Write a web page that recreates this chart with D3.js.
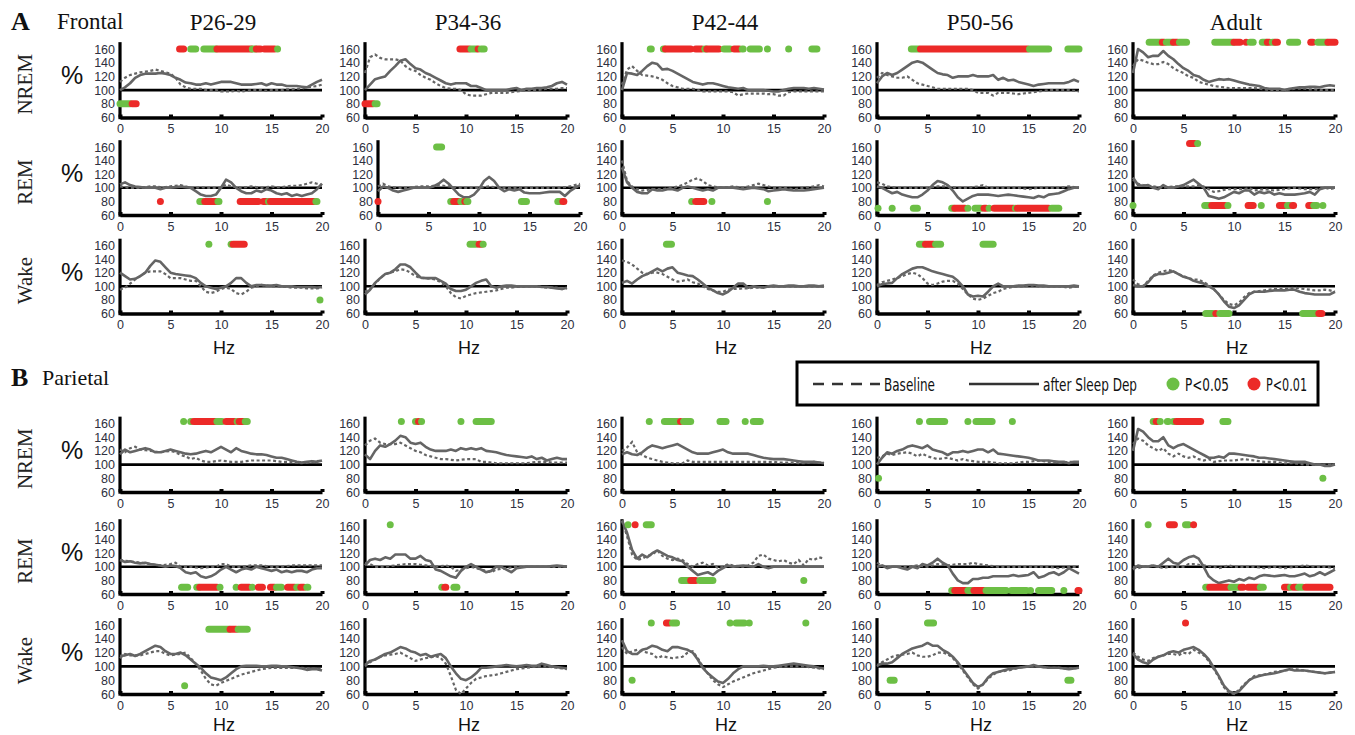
<!DOCTYPE html>
<html>
<head>
<meta charset="utf-8">
<script src="https://cdn.jsdelivr.net/npm/d3@7"></script>
<style>
  body { margin: 0; background: #fff; }
</style>
</head>
<body>
<svg id="chart" width="1355" height="735"></svg>
<script>
// ---- data -------------------------------------------------------------
const ages = ['P26-29', 'P34-36', 'P42-44', 'P50-56', 'Adult'];
const states = ['NREM', 'REM', 'Wake'];
const hz = [0,0.5,1,1.5,2,2.5,3,3.5,4,4.5,5,5.5,6,6.5,7,7.5,8,8.5,9,9.5,10,
            10.5,11,11.5,12,12.5,13,13.5,14,14.5,15,15.5,16,16.5,17,17.5,18,18.5,19,19.5,20];
const yTicks = [60, 80, 100, 120, 140, 160];
const xTicks = [0, 5, 10, 15, 20];

// % of baseline, one row per age group, values at the hz bins above
const frontalNremBase = [
  [112,118,122,124,126,127,128,130,128,126,124,118,108,104,102,102,102,100,100,100,98,98,98,99,98,99,100,100,100,99,100,100,100,101,101,102,102,104,105,106,108],
  [125,148,152,147,145,145,145,143,135,130,128,122,118,115,110,106,103,102,102,100,94,92,92,92,94,96,96,96,96,97,98,99,100,100,100,101,102,102,102,103,103],
  [108,130,135,128,122,121,120,118,115,110,106,104,102,102,102,100,98,98,98,98,98,98,97,92,94,95,95,95,95,94,94,92,92,97,98,98,98,98,98,98,98],
  [118,125,122,120,118,118,120,115,110,108,106,104,102,102,102,102,102,102,102,100,96,96,96,92,96,96,96,95,94,95,96,97,98,99,100,100,100,100,100,99,98],
  [135,145,143,140,138,138,141,138,132,128,125,120,118,112,110,108,106,105,104,103,103,103,103,103,103,102,101,100,100,100,100,101,102,102,102,101,101,100,100,100,100]
];
const frontalNremSD = [
  [100,104,110,118,122,124,124,124,125,124,122,118,115,111,110,108,108,110,108,110,112,112,112,110,108,108,108,109,110,107,110,108,108,106,106,106,105,104,108,112,115],
  [100,108,116,118,120,128,135,143,145,138,132,130,125,122,118,114,110,108,110,110,110,106,106,103,100,100,100,100,100,102,103,100,102,102,103,103,104,106,110,112,108],
  [100,125,124,122,128,135,140,138,130,131,128,124,120,116,112,110,108,110,110,108,106,104,103,102,103,100,100,100,100,99,98,98,100,102,103,103,103,102,103,102,101],
  [110,120,125,122,125,130,135,140,142,140,135,130,125,123,122,118,120,120,120,122,120,120,120,122,115,118,114,115,112,110,108,106,108,109,110,110,110,110,112,115,112],
  [125,160,155,148,150,150,157,150,145,138,132,128,122,120,115,112,114,116,115,116,114,112,110,108,107,106,103,102,102,102,100,102,103,104,104,105,105,104,106,107,106]
];
const frontalRemBase = [
  [102,101,100,100,100,101,102,102,101,101,102,103,104,102,100,100,101,100,100,100,100,105,102,101,100,101,102,101,100,101,102,101,101,102,103,103,104,106,108,106,104],
  [102,106,102,101,100,100,100,101,102,102,102,103,104,103,102,101,100,100,100,100,100,101,102,101,100,100,100,100,100,100,100,100,100,100,100,100,100,101,102,104,106],
  [140,110,102,98,96,97,98,98,98,99,100,102,104,108,112,114,110,104,102,101,100,101,102,101,100,102,104,106,104,102,100,100,100,99,98,99,100,101,102,104,102],
  [108,106,102,101,100,100,100,100,100,100,100,101,102,102,102,101,100,100,100,101,102,104,100,100,100,100,100,100,100,99,98,99,100,100,100,100,100,101,102,101,100],
  [112,106,104,103,102,101,100,101,102,102,102,102,102,104,102,98,94,95,97,98,98,98,98,100,96,97,98,97,96,97,98,99,100,99,98,98,98,99,100,98,100]
];
const frontalRemSD = [
  [105,108,104,102,101,100,100,100,98,100,100,101,102,101,100,95,90,88,88,90,100,112,108,100,95,92,92,96,94,98,96,92,90,92,88,90,88,90,92,98,106],
  [95,102,100,96,94,96,98,100,100,100,100,102,106,112,106,98,90,86,86,90,98,110,116,110,100,95,98,96,98,93,92,92,92,93,94,94,94,88,95,100,104],
  [130,108,100,94,92,92,98,96,96,98,98,96,100,102,100,98,96,98,96,100,100,100,100,99,98,99,100,99,98,95,96,97,98,97,96,96,96,97,98,99,100],
  [102,100,96,92,94,90,88,86,86,90,96,104,110,108,104,96,86,80,84,88,90,90,90,89,88,89,90,89,88,87,86,85,88,86,90,91,92,95,98,100,100],
  [115,104,103,104,100,98,104,100,100,102,104,108,112,106,100,88,86,84,86,90,94,92,96,96,90,94,92,94,90,92,90,90,90,91,92,94,90,98,100,100,100]
];
const frontalWakeBase = [
  [95,98,104,110,115,120,122,122,122,118,112,112,112,110,108,108,100,92,90,92,96,98,96,90,88,92,98,100,102,101,100,100,99,99,98,98,98,97,97,97,98],
  [92,96,104,112,118,120,122,125,124,120,115,112,112,111,110,106,100,90,84,82,86,88,90,91,92,93,94,96,98,98,99,99,100,100,100,99,98,98,98,96,97],
  [138,136,132,126,120,118,120,120,118,114,110,107,108,110,106,104,100,96,94,92,92,95,96,96,97,97,98,98,99,99,100,100,100,100,100,100,100,100,100,100,100],
  [102,106,108,110,112,115,118,120,118,112,104,102,104,107,108,108,104,96,88,82,80,82,86,90,92,96,98,99,100,100,101,101,100,100,100,100,100,99,98,99,100],
  [110,103,100,108,116,120,122,124,122,118,115,112,110,110,106,102,96,88,80,74,72,76,84,90,92,93,94,95,96,96,96,97,98,97,96,95,94,94,95,94,92]
];
const frontalWakeSD = [
  [120,115,110,111,115,120,130,138,136,128,120,118,117,116,115,112,105,100,98,96,98,100,105,112,112,105,100,102,102,101,101,102,100,100,100,99,99,99,99,98,99],
  [88,95,105,112,118,120,125,132,132,128,120,113,112,112,112,108,104,96,93,93,95,100,105,108,110,100,98,100,101,101,100,100,100,100,100,99,99,98,97,96,98],
  [105,108,104,110,115,118,122,126,122,126,128,120,118,116,115,110,104,98,94,90,88,92,98,104,104,98,100,99,98,100,101,100,100,101,101,100,100,101,101,100,101],
  [100,103,104,105,112,118,122,126,128,128,125,122,120,118,116,114,108,100,88,85,86,85,92,100,104,100,100,100,101,101,102,102,101,101,100,100,100,100,100,101,100],
  [102,100,100,106,115,118,118,120,122,118,114,112,108,106,104,100,96,88,78,70,68,72,80,88,92,92,92,93,94,94,94,95,95,92,90,89,88,88,88,88,92]
];
const parietalNremBase = [
  [122,118,124,126,122,121,120,119,118,119,120,118,114,112,108,110,106,104,104,105,106,105,104,104,104,105,106,106,106,106,106,105,104,104,104,103,102,103,104,105,106],
  [128,135,138,132,130,130,130,132,128,124,120,118,114,112,110,108,108,107,106,107,108,108,108,104,104,103,102,102,102,102,102,102,102,103,104,104,104,103,103,103,103],
  [120,125,133,118,114,110,108,106,104,103,102,102,102,106,104,104,104,104,104,104,104,104,104,104,104,104,104,104,104,104,104,103,103,103,103,102,102,103,104,103,103],
  [110,112,116,114,116,117,118,116,112,116,112,110,108,109,110,108,106,108,106,105,104,104,104,103,102,102,102,102,103,104,104,105,106,105,104,104,103,103,104,104,103],
  [130,138,135,128,124,120,124,116,112,116,112,110,112,108,106,108,104,105,106,106,106,107,108,107,106,105,104,104,104,103,102,102,102,101,100,100,100,100,100,100,100]
];
const parietalNremSD = [
  [115,122,118,120,122,124,122,118,118,120,122,120,118,116,115,116,118,120,118,122,126,122,118,124,120,118,116,115,115,114,112,110,110,108,106,104,103,104,105,104,106],
  [115,108,120,128,126,130,135,142,140,132,130,132,126,122,120,120,120,122,120,124,122,124,122,124,120,119,118,116,114,113,112,111,110,112,108,110,106,108,110,108,108],
  [115,118,115,114,118,124,128,126,124,126,128,130,126,122,118,116,116,116,118,120,122,118,116,116,116,116,114,112,110,109,108,108,108,107,106,105,104,104,104,103,102],
  [100,110,118,116,120,122,126,128,126,124,128,122,120,118,114,118,118,120,118,120,122,122,118,122,116,115,114,113,112,111,110,108,106,106,106,105,104,104,102,104,104],
  [120,152,148,140,134,134,140,128,124,128,130,126,122,118,114,110,110,112,110,116,116,115,114,113,112,110,110,109,108,107,106,105,104,104,104,102,100,100,98,98,100]
];
const parietalRemBase = [
  [110,109,108,107,106,105,104,103,102,103,104,106,100,100,100,99,98,99,100,100,104,104,100,100,100,101,102,102,102,101,100,100,100,101,102,102,102,102,102,102,102],
  [106,104,100,100,100,101,102,103,104,104,104,103,102,101,100,101,102,100,94,96,98,100,98,96,94,92,96,97,98,99,100,100,100,100,100,100,100,100,100,100,101],
  [168,145,118,110,112,116,118,124,116,112,110,112,110,104,100,104,106,102,104,98,100,104,102,101,100,102,106,116,118,112,110,108,110,106,104,110,102,112,110,114,112],
  [106,102,100,100,100,100,100,101,102,101,100,102,104,103,102,103,104,104,104,106,104,103,102,101,100,100,100,100,100,100,100,100,100,100,100,99,98,99,100,100,100],
  [100,98,100,101,102,100,98,100,100,100,100,104,104,103,102,101,100,98,100,102,100,100,100,100,100,99,98,99,100,99,98,99,100,101,102,101,100,100,100,99,98]
];
const parietalRemSD = [
  [110,107,108,106,105,106,104,103,102,100,102,101,98,92,90,92,86,84,86,90,96,100,96,92,96,98,96,100,98,96,94,96,92,94,92,94,94,92,96,98,98],
  [102,110,112,110,114,112,118,118,118,112,112,116,110,108,96,94,90,86,84,94,100,104,100,96,92,94,100,100,96,92,98,99,100,100,100,100,100,101,102,101,100],
  [168,150,125,112,118,114,120,124,120,116,114,110,108,100,94,88,90,92,88,94,98,102,100,101,102,101,100,104,100,98,100,100,100,100,100,100,100,100,100,100,100],
  [100,102,98,100,100,98,96,100,98,104,102,106,112,106,102,90,80,76,76,82,82,84,84,86,86,86,86,88,86,87,88,92,84,86,90,92,88,92,98,94,90],
  [96,102,100,100,102,100,106,112,106,104,110,114,116,112,100,86,80,76,78,80,78,82,80,84,82,86,88,87,86,87,88,86,86,88,90,86,88,92,88,92,96]
];
const parietalWakeBase = [
  [112,118,116,116,116,118,120,122,122,118,116,117,118,120,112,104,94,82,74,72,76,79,82,85,88,90,92,94,96,97,98,98,98,98,98,98,98,97,97,96,96],
  [100,106,110,114,116,117,118,120,116,112,108,110,112,113,115,112,104,86,66,60,68,76,82,84,86,87,88,90,92,94,96,97,98,99,100,100,100,99,98,97,96],
  [128,118,122,124,122,120,118,112,115,113,112,113,114,120,122,112,100,90,80,74,70,74,78,81,84,87,90,92,94,96,98,99,100,100,100,100,100,99,98,97,96],
  [100,106,110,114,116,117,118,120,116,114,114,116,120,120,118,112,104,94,84,74,68,74,82,88,92,93,94,96,98,99,100,100,100,99,98,98,98,97,97,97,98],
  [120,114,110,108,112,114,116,118,118,116,120,118,124,120,116,108,96,84,70,62,60,66,74,80,86,87,88,90,92,93,94,95,96,95,94,93,92,91,90,91,92]
];
const parietalWakeSD = [
  [115,116,118,115,118,122,126,130,128,122,118,118,120,116,110,104,98,90,84,82,80,84,90,96,100,101,101,101,100,100,101,101,100,100,99,98,97,95,96,96,94],
  [102,108,110,114,118,120,124,128,126,122,120,116,118,114,116,118,112,100,90,82,80,84,90,98,98,99,100,101,102,101,100,101,102,101,101,104,102,100,99,98,97],
  [138,122,118,118,124,126,130,128,124,122,128,128,126,124,120,110,98,90,84,78,76,82,90,96,100,100,100,100,101,100,100,101,102,103,104,103,102,101,100,98,97],
  [102,104,104,106,112,118,122,126,128,130,134,130,130,124,120,114,106,96,86,76,70,74,84,90,92,94,96,97,98,99,100,102,100,99,98,98,98,97,96,97,98],
  [118,110,106,104,110,114,116,120,122,120,124,126,128,124,118,110,98,86,72,64,61,64,72,80,84,86,88,89,90,92,94,96,94,94,94,93,92,91,90,91,92]
];

// significant bins: [plotted at %, from Hz, to Hz, 'g' = P<0.05 / 'r' = P<0.01]
const frontalNremSig = [
  [[160,5.9,6.3,'r'],[160,7.0,7.5,'g'],[160,8.3,9.5,'g'],[160,9.6,13.0,'r'],[160,13.1,13.4,'g'],[160,13.5,13.9,'r'],[160,14.3,15.3,'r'],[160,15.6,15.6,'g'],[80,0,1.0,'g'],[80,1.2,1.6,'r']],
  [[160,9.4,10.3,'r'],[160,10.5,11.0,'g'],[160,11.2,11.2,'r'],[160,11.5,11.8,'g'],[80,0,0.8,'r'],[80,1.0,1.2,'g']],
  [[160,2.8,2.9,'g'],[160,4.1,4.2,'g'],[160,4.3,6.8,'r'],[160,7.3,7.9,'r'],[160,8.2,8.3,'g'],[160,8.4,9.6,'r'],[160,10.1,10.7,'g'],[160,11.1,11.6,'r'],[160,11.9,12.0,'g'],[160,12.7,13.6,'g'],[160,14.4,14.4,'g'],[160,16.5,16.5,'g'],[160,18.8,19.3,'g']],
  [[160,3.4,4.1,'g'],[160,4.3,14.9,'r'],[160,15.1,17.0,'g'],[160,18.9,20,'g']],
  [[170,1.6,2.8,'g'],[170,2.9,3.1,'r'],[170,3.3,3.9,'g'],[170,4.0,4.4,'r'],[170,4.6,5.3,'g'],[170,8.1,9.9,'g'],[170,10.0,10.6,'r'],[170,11.2,11.2,'r'],[170,11.6,11.9,'g'],[170,12.8,13.2,'g'],[170,13.3,13.5,'r'],[170,13.8,14.0,'g'],[170,14.1,14.3,'r'],[170,15.5,16.3,'g'],[170,17.6,17.8,'r'],[170,18.3,19.2,'g'],[170,19.3,20,'r']]
];
const frontalRemSig = [
  [[80,4.0,4.0,'r'],[80,7.9,8.2,'g'],[80,8.4,9.6,'r'],[80,9.7,9.8,'g'],[80,11.9,13.7,'r'],[80,14.2,14.5,'r'],[80,14.7,14.7,'g'],[80,14.9,19.2,'r'],[80,19.4,19.5,'g']],
  [[160,5.8,6.3,'g'],[80,0,0,'r'],[80,7.2,7.3,'g'],[80,7.5,8.0,'r'],[80,8.2,8.3,'g'],[80,8.6,8.6,'r'],[80,8.8,8.9,'g'],[80,14.2,14.7,'g'],[80,17.8,18.0,'g'],[80,18.3,18.4,'r']],
  [[80,6.9,6.9,'g'],[80,7.3,8.1,'r'],[80,8.9,8.9,'g'],[80,14.4,14.4,'g']],
  [[70,0.1,0.1,'g'],[70,1.5,1.5,'g'],[70,3.6,4.0,'g'],[70,7.4,7.6,'g'],[70,7.7,8.7,'r'],[70,9.0,9.0,'g'],[70,9.7,10.3,'g'],[70,10.6,10.8,'r'],[70,11.1,11.1,'g'],[70,11.6,13.5,'r'],[70,13.7,13.7,'g'],[70,13.9,17.0,'r'],[70,17.3,18.0,'g']],
  [[165,5.6,6.1,'r'],[165,6.4,6.4,'g'],[74,0,0,'g'],[74,7.1,7.6,'g'],[74,7.8,9.1,'r'],[74,9.4,9.4,'g'],[74,11.4,11.9,'r'],[74,12.7,12.7,'g'],[74,14.5,15.0,'r'],[74,15.3,15.5,'g'],[74,15.8,15.9,'r'],[74,17.4,17.7,'r'],[74,17.9,18.2,'g'],[74,18.8,18.8,'g']]
];
const frontalWakeSig = [
  [[162,8.8,8.8,'g'],[162,11.0,11.0,'g'],[162,11.2,12.3,'r'],[80,19.8,19.8,'g']],
  [[162,10.4,11.0,'g'],[162,11.3,11.5,'r'],[162,11.7,11.7,'g']],
  [[162,4.4,4.9,'g']],
  [[162,4.2,4.7,'g'],[162,4.8,5.6,'r'],[162,5.8,6.3,'g'],[162,10.5,11.5,'g']],
  [[60,7.2,7.9,'g'],[60,8.2,8.2,'r'],[60,8.6,9.5,'g'],[60,16.8,18.1,'g'],[60,18.4,18.7,'r']]
];
const parietalNremSig = [
  [[163,6.3,6.3,'g'],[163,7.0,7.0,'g'],[163,7.3,9.4,'r'],[163,9.6,10.1,'g'],[163,10.5,11.3,'r'],[163,11.6,11.6,'g'],[163,11.8,12.2,'r'],[163,12.4,12.6,'g']],
  [[163,3.6,3.6,'g'],[163,5.0,5.0,'g'],[163,5.3,5.3,'r'],[163,5.6,5.6,'g'],[163,9.5,9.5,'g'],[163,11.0,12.5,'g']],
  [[163,2.7,2.7,'g'],[163,4.2,5.5,'g'],[163,5.8,5.8,'r'],[163,6.1,6.8,'g'],[163,9.7,10.3,'g'],[163,12.2,12.2,'g'],[163,13.0,13.7,'g']],
  [[163,4.2,4.2,'g'],[163,5.2,6.7,'g'],[163,9.0,9.0,'g'],[163,9.8,11.4,'g'],[163,13.4,13.4,'g'],[80,0.15,0.15,'g']],
  [[163,2.0,2.0,'g'],[163,2.3,2.4,'r'],[163,2.7,2.7,'g'],[163,3.4,3.5,'g'],[163,4.0,4.1,'g'],[163,4.3,6.7,'r'],[163,8.9,9.4,'g'],[80,18.8,18.8,'g']]
];
const parietalRemSig = [
  [[70,6.1,6.7,'g'],[70,7.6,7.8,'g'],[70,7.9,9.6,'r'],[70,9.9,9.9,'g'],[70,11.5,11.5,'g'],[70,12.0,12.8,'r'],[70,13.1,13.1,'g'],[70,13.7,14.1,'r'],[70,14.9,15.3,'r'],[70,15.5,16.0,'g'],[70,16.6,17.3,'r'],[70,17.5,17.7,'g'],[70,17.9,18.2,'r'],[70,18.5,18.6,'g']],
  [[162,2.5,2.5,'g'],[70,7.6,7.6,'g'],[70,7.9,8.0,'r'],[70,8.8,9.1,'g']],
  [[162,0.6,0.6,'g'],[162,1.3,1.3,'r'],[162,2.4,2.9,'g'],[80,5.9,6.6,'g'],[80,6.8,7.3,'r'],[80,7.7,9.0,'g'],[80,18.0,18.0,'g']],
  [[65,7.4,7.6,'g'],[65,7.7,8.9,'r'],[65,9.0,9.4,'g'],[65,9.6,10.6,'r'],[65,10.8,12.8,'g'],[65,13.3,14.8,'g'],[65,15.2,15.2,'g'],[65,16.0,17.3,'g'],[65,18.5,18.5,'g'],[65,19.9,20,'r']],
  [[162,1.5,1.5,'g'],[162,3.6,4.1,'r'],[162,5.2,5.5,'g'],[162,6.0,6.0,'r'],[70,7.2,7.4,'g'],[70,7.6,9.5,'r'],[70,9.7,10.5,'g'],[70,10.7,10.9,'r'],[70,11.4,12.5,'r'],[70,12.6,12.9,'g'],[70,15.0,15.4,'r'],[70,15.6,15.6,'g'],[70,15.9,16.2,'r'],[70,16.4,16.8,'g'],[70,17.1,19.5,'r']]
];
const parietalWakeSig = [
  [[154,8.8,10.8,'g'],[154,10.9,11.5,'r'],[154,11.7,12.6,'g'],[72,6.4,6.4,'g']],
  [],
  [[163,2.9,2.9,'g'],[163,4.4,4.7,'r'],[163,5.0,5.4,'g'],[163,10.7,10.7,'g'],[163,11.3,12.1,'g'],[163,12.6,12.6,'g'],[163,18.2,18.2,'g'],[80,1.0,1.0,'g']],
  [[163,5.0,5.6,'g'],[80,1.3,1.7,'g'],[80,18.9,19.2,'g']],
  [[163,5.2,5.2,'r']]
];

// ---- layout -------------------------------------------------------------
const serif = '"Liberation Serif", "Times New Roman", serif';
const sans = '"Liberation Sans", Arial, sans-serif';
const narrow = '"Liberation Sans Narrow", "DejaVu Sans Condensed", "Liberation Sans", sans-serif';
const green = '#6cbf45', red = '#ec2a28';
const lineGray = '#656565';
const colX = [120, 365, 622, 877, 1133];
const panelW = 202;

const svg = d3.select('#chart');

function drawPanel(x0, yb, yt, base, sd, sig) {
  const x = d3.scaleLinear().domain([0, 20]).range([x0, x0 + panelW]);
  const y = d3.scaleLinear().domain([60, 160]).range([yb, yt]);
  const g = svg.append('g');

  // y tick labels
  g.append('g').attr('transform', `translate(${x0},0)`)
    .call(d3.axisLeft(y).tickValues(yTicks).tickSize(0).tickPadding(5))
    .call(a => a.select('.domain').remove())
    .selectAll('text')
    .attr('font-size', 12.5).attr('font-family', sans).attr('fill', '#2e3040');

  // x axis with little tick bumps
  const xa = g.append('g').attr('transform', `translate(0,${yb})`)
    .call(d3.axisBottom(x).tickValues(xTicks).tickSizeInner(-3).tickSizeOuter(0).tickPadding(7));
  xa.select('.domain').attr('stroke', '#000').attr('stroke-width', 3.5);
  xa.selectAll('.tick line').attr('stroke', '#000').attr('stroke-width', 4);
  xa.selectAll('text').attr('font-size', 12.5).attr('font-family', sans).attr('fill', '#2e3040');

  // y axis line, a little taller than the top tick
  g.append('line')
    .attr('x1', x0).attr('x2', x0)
    .attr('y1', y(60) + 1.7).attr('y2', y(170))
    .attr('stroke', '#000').attr('stroke-width', 3.2);

  // 100% reference
  g.append('line')
    .attr('x1', x(0)).attr('x2', x(20))
    .attr('y1', y(100)).attr('y2', y(100))
    .attr('stroke', '#000').attr('stroke-width', 2.6);

  const line = d3.line().x((d, i) => x(hz[i])).y(d => y(d));

  g.append('path').datum(base)
    .attr('d', line).attr('fill', 'none')
    .attr('stroke', lineGray).attr('stroke-width', 2.2)
    .attr('stroke-dasharray', '3,2.5');

  g.append('path').datum(sd)
    .attr('d', line).attr('fill', 'none')
    .attr('stroke', lineGray).attr('stroke-width', 2.6)
    .attr('stroke-linejoin', 'round');

  // significance dots (runs of adjacent bins)
  g.selectAll('line.sig').data(sig).join('line')
    .attr('class', 'sig')
    .attr('x1', d => x(d[1])).attr('x2', d => x(d[2]))
    .attr('y1', d => y(d[0])).attr('y2', d => y(d[0]))
    .attr('stroke', d => d[3] === 'r' ? red : green)
    .attr('stroke-width', 7)
    .attr('stroke-linecap', 'round');

  return { x, y };
}

const regions = [
  { letter: 'A', name: 'Frontal', titleY: 30, hzOff: 40,
    rows: [[117.5, 49], [215, 147], [313.5, 245.5]],
    shift: [[0,0,0,0,0],[0,13,0,0,0],[0,0,0,0,0]],
    base: [frontalNremBase, frontalRemBase, frontalWakeBase],
    sd: [frontalNremSD, frontalRemSD, frontalWakeSD],
    sig: [frontalNremSig, frontalRemSig, frontalWakeSig] },
  { letter: 'B', name: 'Parietal', titleY: 386, hzOff: 37,
    rows: [[492, 423.5], [594, 526], [694, 625]],
    shift: [[0,0,0,0,0],[0,0,0,0,0],[0,0,0,0,0]],
    base: [parietalNremBase, parietalRemBase, parietalWakeBase],
    sd: [parietalNremSD, parietalRemSD, parietalWakeSD],
    sig: [parietalNremSig, parietalRemSig, parietalWakeSig] }
];

regions.forEach((reg, ri) => {
  svg.append('text').attr('x', 11).attr('y', reg.titleY)
    .attr('font-family', serif).attr('font-weight', 'bold').attr('font-size', 26)
    .attr('fill', '#111').text(reg.letter);
  svg.append('text').attr('x', ri === 0 ? 57 : 42).attr('y', reg.titleY - 1)
    .attr('font-family', serif).attr('font-size', ri === 0 ? 23 : 22)
    .attr('fill', '#111').text(reg.name);

  states.forEach((st, si) => {
    const [yb, yt] = reg.rows[si];
    ages.forEach((age, ai) => {
      const x0 = colX[ai] + reg.shift[si][ai];
      const { x, y } = drawPanel(x0, yb, yt, reg.base[si][ai], reg.sd[si][ai], reg.sig[si][ai]);
      if (ai === 0) {
        svg.append('text')
          .attr('transform', `translate(32,${(yb + yt) / 2 + 1}) rotate(-90)`)
          .attr('text-anchor', 'middle')
          .attr('font-family', serif).attr('font-size', 21).attr('fill', '#222')
          .text(st);
        svg.append('text').attr('x', 72).attr('y', y(120) + 8)
          .attr('text-anchor', 'middle')
          .attr('font-family', sans).attr('font-size', 25).attr('fill', '#111')
          .text('%');
      }
      if (si === 2) {
        svg.append('text').attr('x', x(10) + 3).attr('y', yb + reg.hzOff)
          .attr('text-anchor', 'middle')
          .attr('font-family', sans).attr('font-size', 18).attr('fill', '#111')
          .text('Hz');
      }
      if (ri === 0 && si === 0) {
        svg.append('text').attr('x', x0 + 103).attr('y', 30)
          .attr('text-anchor', 'middle')
          .attr('font-family', serif).attr('font-size', 23).attr('fill', '#111')
          .text(age);
      }
    });
  });
});

// ---- legend -------------------------------------------------------------
const lg = svg.append('g');
lg.append('rect').attr('x', 797).attr('y', 362).attr('width', 521).attr('height', 43)
  .attr('fill', '#fff').attr('stroke', '#000').attr('stroke-width', 3);
lg.append('line').attr('x1', 813).attr('x2', 880).attr('y1', 384).attr('y2', 384)
  .attr('stroke', '#333').attr('stroke-width', 2.6).attr('stroke-dasharray', '11,8');
lg.append('line').attr('x1', 969).attr('x2', 1039).attr('y1', 384).attr('y2', 384)
  .attr('stroke', '#333').attr('stroke-width', 2.6);
lg.append('circle').attr('cx', 1173).attr('cy', 384).attr('r', 6.5).attr('fill', green);
lg.append('circle').attr('cx', 1254).attr('cy', 384).attr('r', 6.5).attr('fill', red);
// [x, label, width in the figure]
const legendText = [[884, 'Baseline', 51], [1043, 'after Sleep Dep', 94], [1185, 'P<0.05', 44], [1266, 'P<0.01', 41]];
lg.selectAll('text.lg').data(legendText).join('text')
  .attr('class', 'lg')
  .attr('x', d => d[0]).attr('y', 391)
  .attr('font-family', narrow).attr('font-size', 18).attr('fill', '#111')
  .attr('textLength', d => d[2]).attr('lengthAdjust', 'spacingAndGlyphs')
  .text(d => d[1]);
</script>
</body>
</html>
